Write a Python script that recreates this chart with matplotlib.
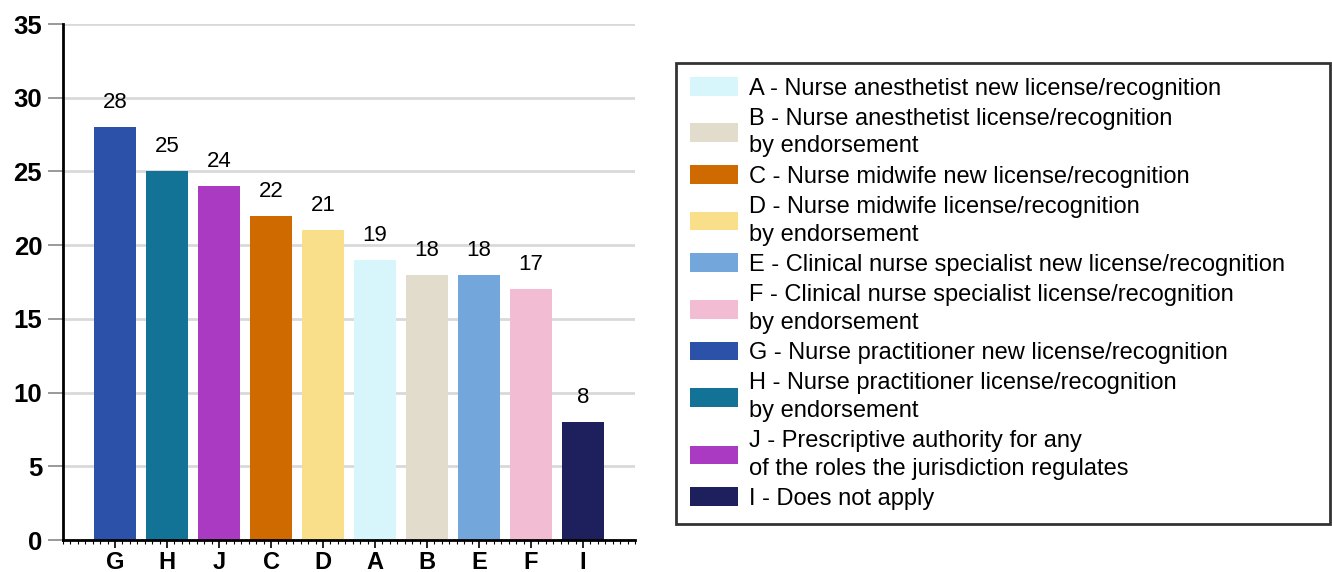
import matplotlib.pyplot as plt
from matplotlib.patches import Patch
from matplotlib.ticker import MultipleLocator

plt.rcParams['font.family'] = ['Liberation Sans', 'DejaVu Sans']

# bars, in plotted order
cats = ["G", "H", "J", "C", "D", "A", "B", "E", "F", "I"]
values = [28, 25, 24, 22, 21, 19, 18, 18, 17, 8]

# legend entries, in legend order
legend_keys = ["A", "B", "C", "D", "E", "F", "G", "H", "J", "I"]
legend_labels = [
    "A - Nurse anesthetist new license/recognition",
    "B - Nurse anesthetist license/recognition\nby endorsement",
    "C - Nurse midwife new license/recognition",
    "D - Nurse midwife license/recognition\nby endorsement",
    "E - Clinical nurse specialist new license/recognition",
    "F - Clinical nurse specialist license/recognition\nby endorsement",
    "G - Nurse practitioner new license/recognition",
    "H - Nurse practitioner license/recognition\nby endorsement",
    "J - Prescriptive authority for any\nof the roles the jurisdiction regulates",
    "I - Does not apply",
]
colors = {
    "A": "#d6f6fb", "B": "#e2dccc", "C": "#cf6a00", "D": "#f9df8a",
    "E": "#73a6db", "F": "#f2bcd3", "G": "#2b52a8", "H": "#137396",
    "J": "#ab3ac2", "I": "#1e205e",
}

fig = plt.figure(figsize=(13.32, 5.72), dpi=100)
ax = fig.add_axes([63 / 1332, 32 / 572, 572 / 1332, 516 / 572])

x = range(len(cats))
ax.bar(x, values, width=0.8, color=[colors[c] for c in cats], zorder=3)
for xi, v in zip(x, values):
    ax.text(xi, v + 0.95, str(v), ha="center", va="bottom", fontsize=16)

ax.set_xlim(-1, len(cats))
ax.set_ylim(0, 35)
ax.set_yticks(range(0, 36, 5))
ax.set_xticks(list(x))
ax.set_xticklabels(cats)
ax.xaxis.set_minor_locator(MultipleLocator(1 / 7))
for lbl in ax.get_xticklabels() + ax.get_yticklabels():
    lbl.set_fontweight("bold")
ax.tick_params(axis="y", labelsize=18.5, length=11, width=1.2, color="#888888", pad=4)
ax.tick_params(axis="x", which="major", labelsize=17, length=6, width=1.2, pad=2)
ax.tick_params(axis="x", which="minor", length=3, width=0.8)
ax.grid(axis="y", color="#d9d9d9", linewidth=2, zorder=0)
for s in ["top", "right"]:
    ax.spines[s].set_visible(False)
for s in ["left", "bottom"]:
    ax.spines[s].set_linewidth(2)
    ax.spines[s].set_zorder(4)

handles = [Patch(facecolor=colors[k]) for k in legend_keys]
leg = fig.legend(handles, legend_labels, loc="upper left",
                 bbox_to_anchor=(676 / 1332, 1 - 63 / 572, 654 / 1332, 0.0),
                 mode="expand",
                 fontsize=17, frameon=True, fancybox=False,
                 handlelength=2.03, handleheight=0.85, handletextpad=0.47,
                 labelspacing=0.33, borderpad=0.6, borderaxespad=0)
for t in leg.get_texts():
    t.set_linespacing(1.35)
leg.get_frame().set_edgecolor("black")
leg.get_frame().set_linewidth(2)

fig.savefig("out.png", dpi=100)
